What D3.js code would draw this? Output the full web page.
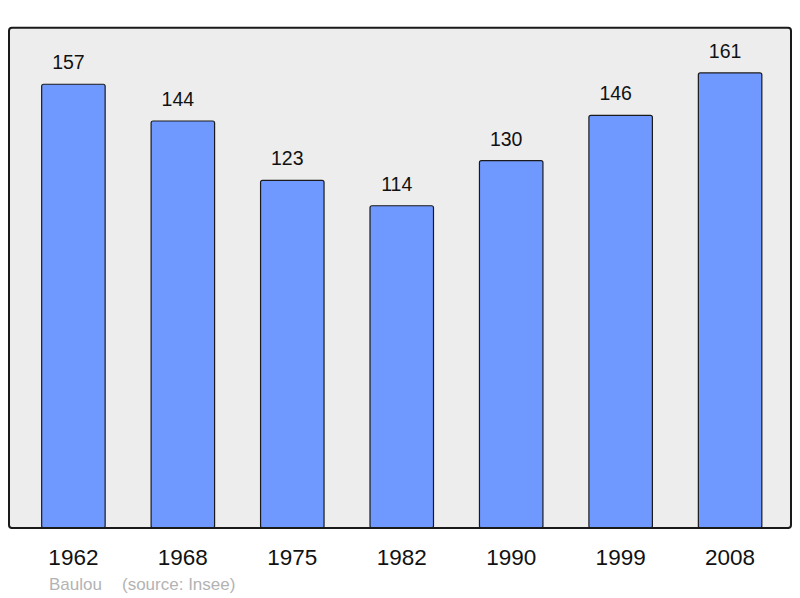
<!DOCTYPE html>
<html><head><meta charset="utf-8">
<script src="https://cdn.jsdelivr.net/npm/d3@7"></script>
<style>body{margin:0;background:#fff}svg{display:block}</style>
</head><body>
<script>
const years = ["1962","1968","1975","1982","1990","1999","2008"];
const population = [157,144,123,114,130,146,161];
const title = "Baulou";
const source = "(source: Insee)";

const W = 800, H = 598;
const svg = d3.select("body").append("svg").attr("width", W).attr("height", H);
const font = "'Liberation Sans', Arial, sans-serif";

const frame = {x0: 9, y0: 27.7, x1: 791, y1: 528};
svg.append("rect").attr("x", frame.x0).attr("y", frame.y0)
  .attr("width", frame.x1 - frame.x0).attr("height", frame.y1 - frame.y0)
  .attr("rx", 3).attr("fill", "#ededed").attr("stroke", "#1a1a1a").attr("stroke-width", 2);

const step = 109.45, firstCenter = 73.4;
const x = d3.scaleBand().domain(years)
  .range([firstCenter - step/2, firstCenter - step/2 + step*years.length])
  .paddingInner(0.42).paddingOuter(0.21);
const y = d3.scaleLinear().domain([0, 177]).range([frame.y1, frame.y0]);

const data = years.map((yr, i) => ({yr, v: population[i]}));

svg.append("g").selectAll("rect").data(data).join("rect")
  .attr("x", d => x(d.yr)).attr("y", d => y(d.v))
  .attr("width", x.bandwidth()).attr("height", d => y(0) - y(d.v))
  .attr("rx", 2).attr("fill", "#7099ff").attr("stroke", "#1a1a1a").attr("stroke-width", 1.2);

svg.append("line").attr("x1", frame.x0 + 2).attr("x2", frame.x1 - 2)
  .attr("y1", frame.y1).attr("y2", frame.y1).attr("stroke", "#1a1a1a").attr("stroke-width", 2);

svg.append("g").selectAll("text").data(data).join("text")
  .attr("x", d => x(d.yr) + x.bandwidth()/2 - 5).attr("y", d => y(d.v) - 15)
  .attr("text-anchor", "middle").attr("font-family", font).attr("font-size", 19.5)
  .attr("fill", "#111").text(d => d.v);

const xAxis = d3.axisBottom(x).tickSize(0).tickPadding(0);
const gx = svg.append("g").attr("transform", `translate(0,${frame.y1})`).call(xAxis);
gx.select(".domain").remove();
gx.selectAll("text").attr("font-family", font).attr("font-size", 22.5).attr("fill", "#111")
  .attr("dy", null).attr("y", 37);

svg.append("text").attr("x", 49).attr("y", 590).attr("font-family", font).attr("font-size", 17)
  .attr("fill", "#b3b3b3").text(title);
svg.append("text").attr("x", 122).attr("y", 590).attr("font-family", font).attr("font-size", 17)
  .attr("fill", "#b3b3b3").text(source);
</script>
</body></html>
